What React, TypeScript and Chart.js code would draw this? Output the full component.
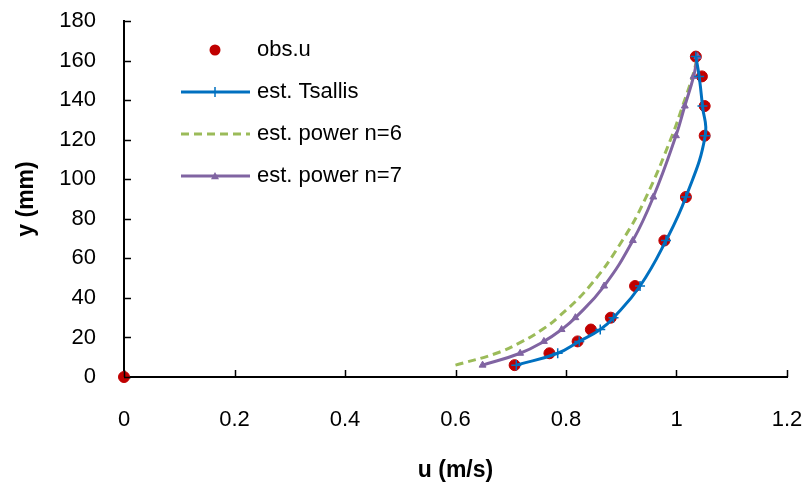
import React, { useEffect, useRef } from "react";
import { Chart, registerables } from "chart.js";

Chart.register(...registerables);

// ---- data ----
const obsU = [0, 0.707, 0.77, 0.821, 0.845, 0.881, 0.925, 0.978, 1.017, 1.051, 1.051, 1.046, 1.035];
const obsY = [0, 6, 12, 18, 24, 30, 46, 69, 91, 122, 137, 152, 162];

const estY = [6, 12, 18, 24, 30, 46, 69, 91, 122, 137, 152, 162];
const tsallisU = [0.71, 0.785, 0.824, 0.862, 0.886, 0.934, 0.981, 1.017, 1.052, 1.047, 1.041, 1.035];
const power6U = [0.6, 0.674, 0.721, 0.757, 0.785, 0.843, 0.902, 0.945, 0.992, 1.011, 1.029, 1.038];
const power7U = [0.649, 0.717, 0.76, 0.792, 0.817, 0.869, 0.921, 0.958, 0.999, 1.015, 1.031, 1.038];

const xTickLabels = ["0", "0.2", "0.4", "0.6", "0.8", "1", "1.2"];
const yTickLabels = ["0", "20", "40", "60", "80", "100", "120", "140", "160", "180"];
const seriesNames = ["obs.u", "est. Tsallis", "est. power n=6", "est. power n=7"];
const xTitle = "u (m/s)";
const yTitle = "y (mm)";

const COL_OBS = "#C00000";
const COL_TS = "#0070C0";
const COL_P6 = "#9BBB59";
const COL_P7 = "#8064A2";

const FONT = "'Liberation Sans', Arial, sans-serif";

const toPts = (xs: number[], ys: number[]) => xs.map((x, i) => ({ x, y: ys[i] }));

function drawMarker(ctx: CanvasRenderingContext2D, style: string, x: number, y: number, r: number, color: string, bw: number) {
  ctx.save();
  ctx.setLineDash([]);
  ctx.fillStyle = color;
  ctx.strokeStyle = color;
  ctx.lineWidth = bw;
  ctx.beginPath();
  if (style === "circle") {
    ctx.arc(x, y, r, 0, Math.PI * 2);
    ctx.fill();
  } else if (style === "cross") {
    ctx.moveTo(x - r, y);
    ctx.lineTo(x + r, y);
    ctx.moveTo(x, y - r);
    ctx.lineTo(x, y + r);
    ctx.stroke();
  } else if (style === "triangle") {
    ctx.moveTo(x, y - r);
    ctx.lineTo(x + r, y + r * 0.8);
    ctx.lineTo(x - r, y + r * 0.8);
    ctx.closePath();
    ctx.fill();
  }
  ctx.restore();
}

const legendPlugin = {
  id: "insideLegend",
  afterDatasetsDraw(chart: any) {
    const ctx: CanvasRenderingContext2D = chart.ctx;
    const rows = [50, 92, 134, 176];
    const x0 = 181;
    const x1 = 250;
    const xm = 215;
    const tx = 257;
    ctx.save();
    chart.data.datasets.forEach((ds: any, i: number) => {
      const y = rows[i];
      if (ds.showLine !== false) {
        ctx.beginPath();
        ctx.setLineDash(ds.borderDash || []);
        ctx.lineWidth = ds.borderWidth;
        ctx.strokeStyle = ds.borderColor;
        ctx.moveTo(x0, y);
        ctx.lineTo(x1, y);
        ctx.stroke();
      }
      ctx.setLineDash([]);
      if (ds.pointRadius > 0) {
        drawMarker(ctx, ds.pointStyle, xm, y, ds.pointRadius, ds.borderColor, ds.pointBorderWidth || 1);
      }
      ctx.fillStyle = "#000";
      ctx.font = `22px ${FONT}`;
      ctx.textAlign = "left";
      ctx.textBaseline = "middle";
      ctx.fillText(ds.label, tx, y);
    });
    ctx.restore();
  },
};

const tickMarkPlugin = {
  id: "insideTicks",
  afterDraw(chart: any) {
    const ctx: CanvasRenderingContext2D = chart.ctx;
    const xs = chart.scales.x;
    const ys = chart.scales.y;
    const { left, bottom } = chart.chartArea;
    ctx.save();
    ctx.strokeStyle = "#000";
    ctx.lineWidth = 1.5;
    ctx.beginPath();
    xs.ticks.forEach((t: any) => {
      const px = Math.round(xs.getPixelForValue(t.value)) + 0.5;
      ctx.moveTo(px, bottom);
      ctx.lineTo(px, bottom - 7);
    });
    ys.ticks.forEach((t: any) => {
      const py = Math.round(ys.getPixelForValue(t.value)) + 0.5;
      ctx.moveTo(left, py);
      ctx.lineTo(left + 7, py);
    });
    ctx.stroke();
    ctx.restore();
  },
};

const zeroPad = (s: any) => {
  s.paddingLeft = 0;
  s.paddingRight = 0;
  s.paddingTop = 0;
  s.paddingBottom = 0;
};

export default function App() {
  const ref = useRef<HTMLCanvasElement | null>(null);

  useEffect(() => {
    if (!ref.current) return;
    const chart = new Chart(ref.current, {
      type: "line",
      data: {
        datasets: [
          {
            label: seriesNames[0],
            data: toPts(obsU, obsY),
            showLine: false,
            borderColor: COL_OBS,
            backgroundColor: COL_OBS,
            pointStyle: "circle",
            pointRadius: 5.5,
            pointBorderWidth: 1,
            clip: false,
            order: 4,
          },
          {
            label: seriesNames[1],
            data: toPts(tsallisU, estY),
            borderColor: COL_TS,
            backgroundColor: COL_TS,
            borderWidth: 3,
            tension: 0.45,
            pointStyle: "cross",
            pointRadius: 5,
            pointBorderWidth: 1.5,
            order: 1,
          },
          {
            label: seriesNames[2],
            data: toPts(power6U, estY),
            borderColor: COL_P6,
            backgroundColor: COL_P6,
            borderWidth: 3,
            borderDash: [8, 5],
            tension: 0.45,
            pointRadius: 0,
            order: 3,
          },
          {
            label: seriesNames[3],
            data: toPts(power7U, estY),
            borderColor: COL_P7,
            backgroundColor: COL_P7,
            borderWidth: 3,
            tension: 0.45,
            pointStyle: "triangle",
            pointRadius: 4,
            pointBorderWidth: 1,
            order: 2,
          },
        ] as any,
      },
      options: {
        responsive: false,
        animation: false,
        devicePixelRatio: 1,
        layout: { padding: { left: 0, right: 19, top: 21, bottom: 0 } },
        plugins: {
          legend: { display: false },
          tooltip: { enabled: false },
        },
        scales: {
          x: {
            type: "linear",
            min: 0,
            max: 1.2,
            ticks: {
              stepSize: 0.2,
              padding: 30,
              color: "#000",
              font: { family: FONT, size: 22 },
              maxRotation: 0,
              callback: (_v: any, i: number) => xTickLabels[i],
            },
            grid: { display: false, drawTicks: false },
            border: { display: true, color: "#000", width: 2 },
            title: {
              display: true,
              text: xTitle,
              color: "#000",
              font: { family: FONT, size: 23, weight: "bold" },
              padding: { top: 0, bottom: 5 },
            },
            afterFit: (s: any) => {
              s.height = 112;
              zeroPad(s);
            },
          },
          y: {
            type: "linear",
            min: 0,
            max: 180,
            ticks: {
              stepSize: 20,
              padding: 28,
              color: "#000",
              font: { family: FONT, size: 22 },
              callback: (_v: any, i: number) => yTickLabels[i],
            },
            grid: { display: false, drawTicks: false },
            border: { display: true, color: "#000", width: 2 },
            title: {
              display: true,
              text: yTitle,
              color: "#000",
              font: { family: FONT, size: 23, weight: "bold" },
              padding: { top: 13, bottom: 0 },
            },
            afterFit: (s: any) => {
              s.width = 124;
              zeroPad(s);
            },
          },
        },
      } as any,
      plugins: [tickMarkPlugin, legendPlugin],
    });
    return () => chart.destroy();
  }, []);

  return (
    <div style={{ position: "fixed", left: 0, top: 0, width: 806, height: 489, background: "#fff" }}>
      <canvas ref={ref} width={806} height={489} style={{ display: "block", width: 806, height: 489 }} />
    </div>
  );
}
